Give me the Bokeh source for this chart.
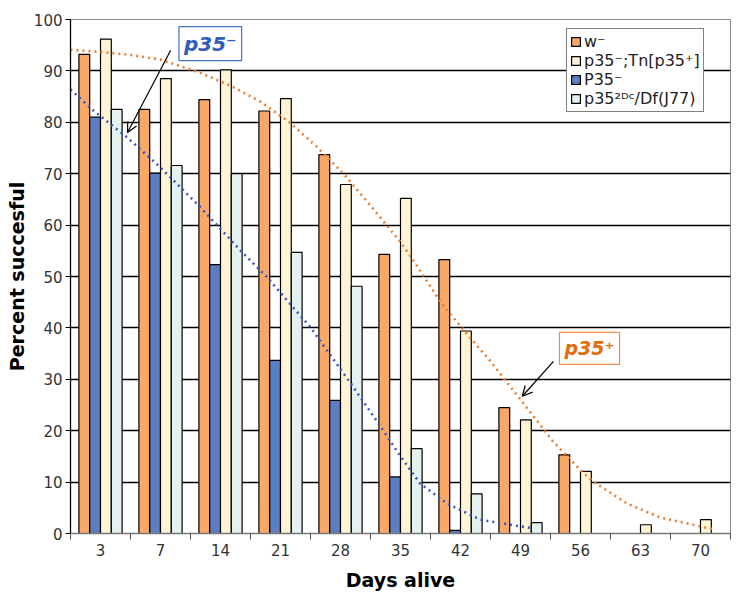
import numpy as np
from bokeh.plotting import figure
from bokeh.models import (Range1d, FixedTicker, Legend, LegendItem, Label, Arrow,
                          OpenHead, ColumnDataSource)
from bokeh.transform import dodge
from bokeh.embed import file_html
from bokeh.resources import INLINE

# ---- data ----
days = ["3", "7", "14", "21", "28", "35", "42", "49", "56", "63", "70"]
w_minus = [93.2, 82.5, 84.4, 82.2, 73.7, 54.3, 53.3, 24.5, 15.3, 0, 0]
p35_minus = [81.0, 70.1, 52.3, 33.7, 25.9, 11.0, 0.6, 0, 0, 0, 0]
p35_tn = [96.2, 88.5, 90.2, 84.6, 67.9, 65.2, 39.4, 22.1, 12.1, 1.7, 2.7]
p35_2dc = [82.5, 71.6, 70.0, 54.7, 48.1, 16.5, 7.7, 2.1, 0, 0, 0]

# trend lines (x in category-index units, 0 = left edge of first group)
trend_plus_x = [0.0, 0.5, 1.0, 1.5, 2.17, 2.67, 3.17, 3.67, 4.1, 4.55, 5.0, 5.5, 5.75, 6.17,
                6.58, 7.0, 7.55, 8.05, 8.5, 8.72, 9.28, 9.83, 10.38, 10.72]
trend_plus_y = [94.1, 93.7, 93.1, 92.2, 89.6, 87.1, 84.0, 79.8, 75.3, 70.0, 63.8, 56.7, 52.5,
                45.0, 39.2, 33.5, 25.3, 17.8, 12.3, 10.0, 5.8, 3.1, 1.7, 0.8]
trend_minus_x = [0.0, 0.38, 0.95, 1.5, 2.17, 2.83, 3.28, 4.0, 4.67, 5.17, 5.5, 5.83,
                 6.28, 6.83, 7.38, 7.72]
trend_minus_y = [86.4, 82.3, 77.0, 71.2, 63.4, 55.1, 49.8, 40.1, 29.2, 20.8, 15.0, 9.7,
                 5.8, 2.7, 1.6, 1.0]

y_ticks = list(range(0, 101, 10))

pos = (np.arange(len(days)) + 0.5).tolist()
src = ColumnDataSource(dict(x=pos, w=w_minus, m=p35_minus, tn=p35_tn, dc=p35_2dc))

FONT = "DejaVu Sans"

p = figure(width=736, height=593, x_range=Range1d(0, len(days)), y_range=Range1d(0, 100),
           output_backend="svg", toolbar_location=None,
           min_border_left=70, min_border_right=6, min_border_top=19, min_border_bottom=60)
p.background_fill_color = "white"
p.border_fill_color = "white"
p.outline_line_color = "#8c8c8c"

# grid
p.xgrid.grid_line_color = None
p.ygrid.ticker = FixedTicker(ticks=y_ticks)
p.ygrid.grid_line_color = "black"
p.ygrid.grid_line_width = 1.3

# bars
bw = 0.18
colors = ["#F9A866", "#5B7EC3", "#FFF5D6", "#E3F2F1"]
fields = ["w", "m", "tn", "dc"]
offs = [-1.5 * bw, -0.5 * bw, 0.5 * bw, 1.5 * bw]
rends = {}
for f, c, o in zip(fields, colors, offs):
    rends[f] = p.vbar(x=dodge("x", o, range=p.x_range), top=f, bottom=0, width=bw,
                      source=src, fill_color=c, line_color="black", line_width=1.2)

# trend lines
p.line(trend_plus_x, trend_plus_y, line_color="#E8802F", line_width=2.6, line_dash="2 4")
p.line(trend_minus_x, trend_minus_y, line_color="#3A56C0", line_width=2.6, line_dash="2 4")

# axes
p.xaxis.ticker = FixedTicker(ticks=pos, minor_ticks=list(range(0, len(days) + 1)))
p.xaxis.major_label_overrides = {x: d for x, d in zip(pos, days)}
p.xaxis.major_tick_line_color = None
p.xaxis.major_tick_out = 6
p.xaxis.minor_tick_line_color = "#555555"
p.xaxis.minor_tick_out = 6
p.xaxis.minor_tick_in = 0
p.xaxis.axis_line_color = "#777777"
p.xaxis.axis_line_width = 1.3
p.xaxis.major_label_standoff = 4
p.xaxis.axis_label = "Days alive"
p.xaxis.axis_label_standoff = 10

p.yaxis.ticker = FixedTicker(ticks=y_ticks)
p.yaxis.minor_tick_line_color = None
p.yaxis.major_tick_out = 5
p.yaxis.major_tick_in = 0
p.yaxis.major_tick_line_color = "black"
p.yaxis.axis_line_color = "black"
p.yaxis.axis_line_width = 1.3
p.yaxis.major_label_standoff = 3
p.yaxis.axis_label = "Percent succesful"
p.yaxis.axis_label_standoff = 3

for ax in (p.xaxis, p.yaxis):
    ax.major_label_text_font = FONT
    ax.major_label_text_font_size = "15px"
    ax.major_label_text_color = "#333333"
    ax.axis_label_text_font = FONT
    ax.axis_label_text_font_size = "19px"
    ax.axis_label_text_font_style = "bold"
    ax.axis_label_text_color = "black"

# legend
legend = Legend(items=[
    LegendItem(label="w\u207b", renderers=[rends["w"]]),
    LegendItem(label="p35\u207b;Tn[p35\u207a]", renderers=[rends["tn"]]),
    LegendItem(label="P35\u207b", renderers=[rends["m"]]),
    LegendItem(label="p35\u00b2\u1d30\u1d9c/Df(J77)", renderers=[rends["dc"]]),
], location=(496, 421))
legend.border_line_color = "black"
legend.border_line_width = 1
legend.background_fill_color = "white"
legend.background_fill_alpha = 1
legend.padding = 3
legend.spacing = 0
legend.margin = 0
legend.label_height = 19
legend.glyph_height = 11
legend.glyph_width = 11
legend.label_standoff = 3
legend.label_text_font = FONT
legend.label_text_font_size = "16px"
legend.label_text_color = "#222222"
p.add_layout(legend)

# annotations
lab_minus = Label(x=2.33, y=95.3, text="p35\u207b", text_font=FONT, text_font_size="20px",
                  text_font_style="bold italic", text_color="#2F5DB8",
                  text_align="center", text_baseline="middle",
                  background_fill_color="white", border_line_color="#4472C4",
                  border_line_width=1.2, padding=5)
p.add_layout(lab_minus)
p.add_layout(Arrow(end=OpenHead(size=10, line_width=1.2, line_color="black"),
                   x_start=1.67, y_start=94.0, x_end=0.95, y_end=78.0,
                   line_color="black", line_width=1.2))

lab_plus = Label(x=8.65, y=36.0, text="p35\u207a", text_font=FONT, text_font_size="19px",
                 text_font_style="bold italic", text_color="#E46C0A",
                 text_align="center", text_baseline="middle",
                 background_fill_color="white", border_line_color="#F08C4C",
                 border_line_width=1.2, padding=5)
p.add_layout(lab_plus)
p.add_layout(Arrow(end=OpenHead(size=10, line_width=1.2, line_color="black"),
                   x_start=8.05, y_start=33.5, x_end=7.53, y_end=26.7,
                   line_color="black", line_width=1.2))

open("out.html", "w").write(file_html(p, INLINE))
